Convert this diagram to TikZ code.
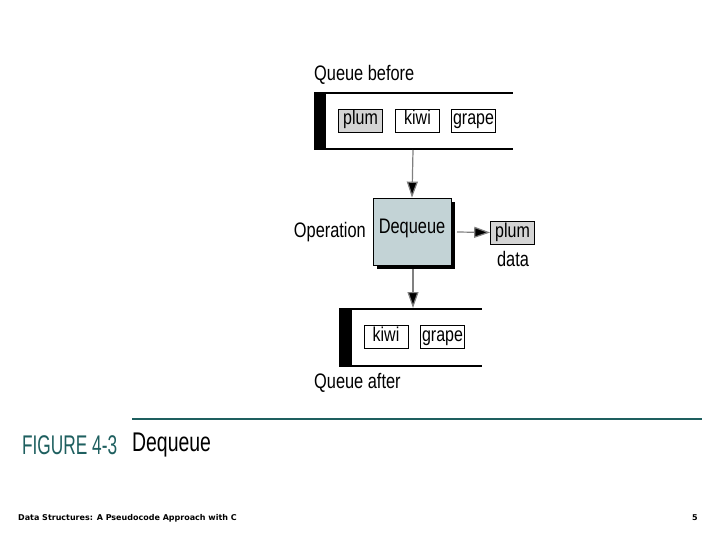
\documentclass[tikz,border=0pt]{standalone}
\usepackage{fontspec}
\setmainfont{Liberation Sans}
\newfontfamily\ftfont{DejaVu Sans}
\usetikzlibrary{arrows.meta}
\definecolor{teal1}{HTML}{1E5F5F}
\definecolor{boxgrey}{HTML}{D4D4D4}
\definecolor{opblue}{HTML}{C3D3D6}
\begin{document}
\begin{tikzpicture}[x=1pt,y=-1pt,
  lbl/.style={inner sep=0pt,font=\fontsize{21}{22}\selectfont,xscale=0.78},
  item/.style={draw,line width=0.8pt,minimum width=55pt,minimum height=23pt,inner sep=0pt,xscale=0.8,text height=13pt,text depth=4pt,font=\fontsize{20}{21}\selectfont},
  conn/.style={draw=gray,line width=1.2pt,-{Triangle[length=16pt,width=11pt,fill=black]}},
  qline/.style={line width=1.8pt}]
\useasboundingbox (0,0) rectangle (720,540);
% Queue before
\node[lbl,anchor=west] (qb) at (314,75) {Queue before};
\fill[black] (314,93) rectangle (326,149);
\draw[qline] (314,93) -- (513,93);
\draw[qline] (314,149) -- (513,149);
\coordinate (qbtop) at (413,150);
\node[item,fill=boxgrey] (p1) at (360.5,120.5) {plum};
\node[item,fill=white] (k1) at (417.5,120.5) {kiwi};
\node[item,fill=white] (g1) at (473.5,120.5) {grape};
% Operation
\fill[black] (377,202) rectangle (455,269);
\node[draw,line width=0.8pt,fill=opblue,minimum width=78pt,minimum height=67pt,inner sep=0pt] (op) at (412,231.5) {};
\node[lbl,anchor=north] at (op.north) [yshift=-21pt] {Dequeue};
\node[lbl,anchor=east] (opl) at (366,232) {Operation};
\draw[conn] (qbtop) -- (op.north);
\node[item,fill=boxgrey] (p2) at (512.5,232.5) {plum};
\node[lbl,anchor=north] (dl) at (513,251) {data};
\draw[conn] (457,232) -- (p2.west);
% Queue after
\coordinate (qatop) at (413,308);
\draw[conn] (413,269) -- (qatop);
\fill[black] (339,309) rectangle (352,366);
\draw[qline] (339,309) -- (482,309);
\draw[qline] (339,366) -- (482,366);
\node[item,fill=white] (k2) at (386,336.5) {kiwi};
\node[item,fill=white] (g2) at (442.5,336.5) {grape};
\node[lbl,anchor=west] (qa) at (314,383) {Queue after};
% caption
\draw[teal1,line width=2pt] (132,419) -- (702,419);
\node[anchor=west,inner sep=0pt,font=\fontsize{27}{28}\selectfont,text=teal1,xscale=0.64] (fig) at (22,445) {FIGURE 4-3};
\node[anchor=west,inner sep=0pt,font=\fontsize{27}{28}\selectfont,xscale=0.72] (cap) at (132,445) {Dequeue};
\node[anchor=west,inner sep=0pt,font=\ftfont\bfseries\fontsize{8}{10}\selectfont] (ft) at (18,518) {Data Structures: A Pseudocode Approach with C};
\node[anchor=east,inner sep=0pt,font=\ftfont\bfseries\fontsize{8}{10}\selectfont] (pg) at (698,518) {5};
\end{tikzpicture}
\end{document}
